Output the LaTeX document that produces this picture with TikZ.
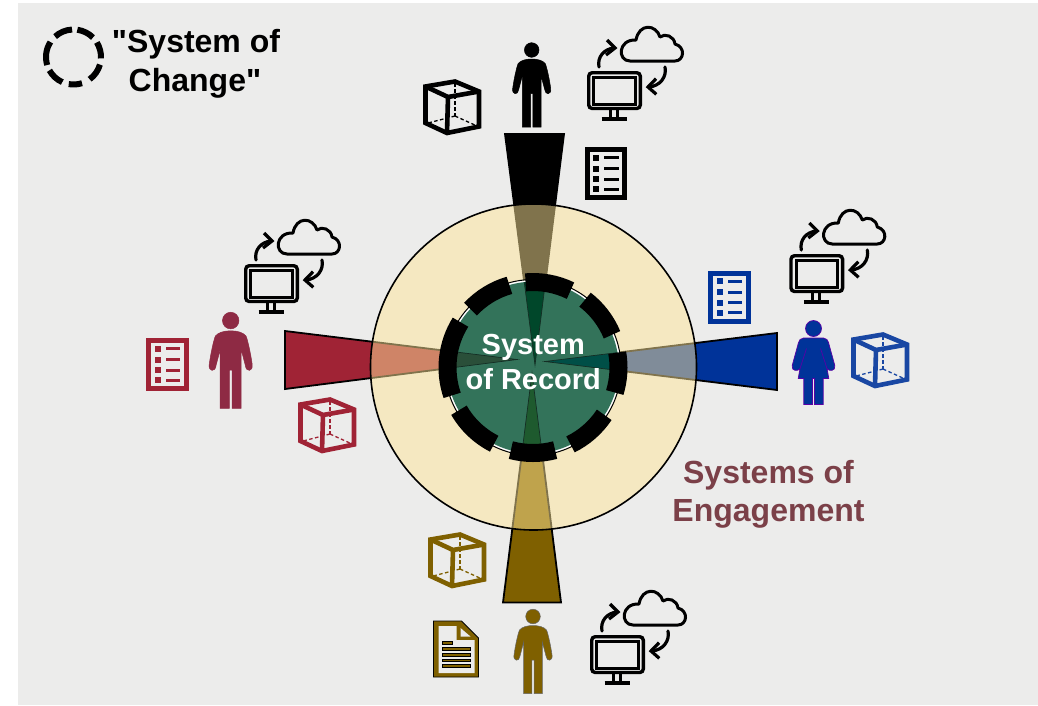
\documentclass[tikz,border=0pt]{standalone}
\usepackage{fontspec}
\newfontfamily\plainsans{Liberation Sans}
\definecolor{bgc}{HTML}{ECECEB}
\definecolor{cGold}{HTML}{7F6000}
\definecolor{cBlue}{HTML}{003399}
\definecolor{cRed}{HTML}{A02335}
\definecolor{cRedP}{HTML}{8E2A44}
\definecolor{cBeige}{HTML}{FFE699}
\definecolor{cGreen}{HTML}{33735A}
\definecolor{cTitle}{HTML}{7B4048}
\definecolor{wTop}{HTML}{00472A}
\definecolor{wRight}{HTML}{004F47}
\definecolor{wLeft}{HTML}{2A4F39}
\definecolor{wBottom}{HTML}{1E5A2E}
\tikzset{
  x=1pt,y=-1pt,
  ringdash/.style={line width=18pt,black},
  legdash/.style={line width=6pt,black},
  wedge/.style={line width=1.8pt,draw=black,line join=miter},
  inwedge/.style={line width=.7pt,draw=black!60!cGreen},
  bigtext/.style={font=\plainsans\bfseries\fontsize{32}{38}\selectfont,align=center,inner sep=0pt},
  sortext/.style={anchor=base,inner sep=0pt,text=white,font=\plainsans\bfseries\fontsize{29}{34}\selectfont},
  pics/cube/.style={code={
    \draw[#1,line width=4.6pt,line join=miter] (2.5,7.5)--(32,2.5)--(56,12.5)--(56,47.5)--(24,54)--(2.5,44)--cycle;
    \draw[#1,line width=4.6pt,line join=miter] (2.5,7.5)--(25,18)--(56,12.5);
    \draw[#1,line width=4.6pt] (25,18)--(24,54);
    \draw[#1,line width=2pt,dash pattern=on 3.5pt off 2.5pt] (32,4)--(32,37);
    \draw[#1,line width=1.3pt,dash pattern=on 3.5pt off 2.5pt] (32,37)--(5,44);
    \draw[#1,line width=1.3pt,dash pattern=on 3.5pt off 2.5pt] (32,37)--(54,47);
  }},
  pics/listicon/.style={code={
    \draw[#1,line width=5pt,fill=bgc,line join=miter] (2.5,2.5) rectangle (40,50.5);
    \foreach \yy in {7.5,18.5,29,39}{
      \fill[#1] (8.7,\yy) rectangle ++(6,6);
      \fill[#1] (19.7,\yy+1.5) rectangle ++(14.5,3);
    }
  }},
  pics/docicon/.style={code={
    \draw[black,fill=#1,line width=.8pt,line join=miter] (0,0)--(28,0)--(45,17)--(45,56)--(0,56)--cycle;
    \fill[bgc] (5,5)--(23,5)--(23,19)--(41,19)--(41,52)--(5,52)--cycle;
    \fill[bgc] (27,7)--(37,15.5)--(27,15.5)--cycle;
    \foreach \yy in {26.5,32.5,38,43.5}{
      \draw[black,fill=#1,line width=.4pt] (9,\yy) rectangle (37,\yy+2.6);
    }
    \draw[black,fill=#1,line width=.4pt] (9,20.5) rectangle (19,23.1);
  }},
  pics/man/.style 2 args={code={
    \fill[#1,draw=#2,line width=.5pt] (0,7.5) circle[radius=7.3];
    \fill[#1,draw=#2,line width=.5pt]
      (0,16.5) .. controls (6,16.5) and (11,18) .. (13.5,21)
      .. controls (15,24) and (18,38) .. (19,46)
      .. controls (20,52.5) and (13.5,53) .. (13,47)
      -- (9.3,33) -- (9.3,84.5) -- (1.2,84.5) -- (1.2,51) -- (-1.2,51) -- (-1.2,84.5) -- (-9.3,84.5) -- (-9.3,33) -- (-13,47)
      .. controls (-13.5,53) and (-20,52.5) .. (-19,46)
      .. controls (-18,38) and (-15,24) .. (-13.5,21)
      .. controls (-11,18) and (-6,16.5) .. (0,16.5) -- cycle;
  }},
  pics/woman/.style 2 args={code={
    \fill[#1,draw=#2,line width=.7pt] (0,8) circle[radius=8];
    \fill[#1,draw=#2,line width=.7pt]
      (0,17.5) -- (10,17.5) .. controls (13,17.5) and (14.5,20) .. (15,22)
      -- (21.3,45) .. controls (22.5,51) and (15,51) .. (13.5,48)
      -- (15.3,58) -- (9.7,58) -- (9.7,84) -- (1,84) -- (1,58) -- (-1,58) -- (-1,84) -- (-9.7,84) -- (-9.7,58) -- (-15.3,58)
      -- (-13.5,48) .. controls (-15,51) and (-22.5,51) .. (-21.3,45)
      -- (-15,22) .. controls (-14.5,20) and (-13,17.5) .. (-10,17.5) -- cycle;
    \draw[#2,line width=.7pt] (7,28) -- (13.5,48) (-7,28) -- (-13.5,48);
  }},
  pics/syncicon/.style={code={
    \draw[black,line width=3.4pt,rounded corners=3.5pt] (1.7,1.7) rectangle (53.3,37.5);
    \draw[black,line width=3pt] (6.8,6.8) rectangle (48.2,33);
    \draw[black,line width=2.8pt] (23.5,39) -- (23.5,47) (30.5,39) -- (30.5,47);
    \draw[black,line width=3.4pt] (14.5,48) -- (40,48);
    \draw[black,line width=3pt,line cap=round,line join=round]
      (43,-10) -- (88,-10) .. controls (97,-10) and (99,-24) .. (88,-27)
      .. controls (87,-35) and (78,-38) .. (73,-34)
      .. controls (69,-47) and (52,-48) .. (49,-31)
      .. controls (31,-32) and (30,-10) .. (43,-10) -- cycle;
    \draw[black,line width=3.2pt,line cap=round] (12,-4) .. controls (10,-14) and (17,-22) .. (27,-23);
    \draw[black,line width=3.2pt,line join=miter] (20,-31) -- (28,-23) -- (19,-16);
    \draw[black,line width=3.2pt,line cap=round] (78,-4) .. controls (80,6) and (73,15) .. (62,16);
    \draw[black,line width=3.2pt,line join=miter] (69,7.7) -- (61,16) -- (69.3,23.3);
  }},
}
\begin{document}
\begin{tikzpicture}
\useasboundingbox (0,0) rectangle (1038,705);
\fill[bgc] (18,3) rectangle (1038,705);

% wedge corner coordinates
\coordinate (c) at (533,367.5);
\coordinate (tT) at (535,365);   \coordinate (tA) at (505,134);  \coordinate (tB) at (564,134);
\coordinate (rT) at (545,361.5); \coordinate (rA) at (777,333);  \coordinate (rB) at (777,390);
\coordinate (lT) at (517,359.5); \coordinate (lA) at (285,331);  \coordinate (lB) at (285,389);
\coordinate (bT) at (532,373);   \coordinate (bA) at (503,602.5);\coordinate (bB) at (561,602.5);

\draw[wedge,fill=black] (tA)--(tB)--(tT)--cycle;
\draw[wedge,fill=cBlue] (rA)--(rB)--(rT)--cycle;
\draw[wedge,fill=cRed]  (lA)--(lB)--(lT)--cycle;
\draw[wedge,fill=cGold] (bA)--(bB)--(bT)--cycle;

% outer disc
\fill[cBeige,fill opacity=.5] (533.5,367) circle[radius=163];
\draw[black,line width=1.6pt] (533.5,367) circle[radius=163];

% inner disc
\fill[white] (c) circle[radius=87.5];
\draw[black,line width=1pt] (c) circle[radius=88];
\fill[cGreen] (c) circle[radius=85.8];
\begin{scope}
  \clip (c) circle[radius=85.8];
  \draw[inwedge,fill=wTop] (tA)--(tB)--(tT)--cycle;
  \draw[inwedge,fill=wRight] (rA)--(rB)--(rT)--cycle;
  \draw[inwedge,fill=wLeft] (lA)--(lB)--(lT)--cycle;
  \draw[inwedge,fill=wBottom] (bA)--(bB)--(bT)--cycle;
\end{scope}

% dashed ring of the System of Change
\draw[ringdash] (c) ++(95:85.5pt) arc[start angle=95,end angle=64,radius=85.5pt];
\draw[ringdash] (c) ++(52.5:85.5pt) arc[start angle=52.5,end angle=22.5,radius=85.5pt];
\draw[ringdash] (c) ++(10:85.5pt) arc[start angle=10,end angle=-17,radius=85.5pt];
\draw[ringdash] (c) ++(-33.6:85.5pt) arc[start angle=-33.6,end angle=-64,radius=85.5pt];
\draw[ringdash] (c) ++(-75:85.5pt) arc[start angle=-75,end angle=-105,radius=85.5pt];
\draw[ringdash] (c) ++(-117:85.5pt) arc[start angle=-117,end angle=-150,radius=85.5pt];
\draw[ringdash] (c) ++(-161:85.5pt) arc[start angle=-161,end angle=-212,radius=85.5pt];
\draw[ringdash] (c) ++(137:85.5pt) arc[start angle=137,end angle=106,radius=85.5pt];

\node[sortext] (sor1) at (533.3,354.5) {System};
\node[sortext] (sor2) at (533.3,389.5) {of Record};

% legend
\coordinate (lg) at (73.5,57);
\draw[legdash] (lg) ++(132:27.5pt) arc[start angle=132,end angle=93,radius=27.5pt];
\draw[legdash] (lg) ++(82:27.5pt) arc[start angle=82,end angle=45,radius=27.5pt];
\draw[legdash] (lg) ++(32:27.5pt) arc[start angle=32,end angle=-3,radius=27.5pt];
\draw[legdash] (lg) ++(-16:27.5pt) arc[start angle=-16,end angle=-54,radius=27.5pt];
\draw[legdash] (lg) ++(-72:27.5pt) arc[start angle=-72,end angle=-100,radius=27.5pt];
\draw[legdash] (lg) ++(-114:27.5pt) arc[start angle=-114,end angle=-151,radius=27.5pt];
\draw[legdash] (lg) ++(-163:27.5pt) arc[start angle=-163,end angle=-213,radius=27.5pt];
\node[anchor=base,bigtext] (leg1) at (196,52) {"System of};
\node[anchor=base,bigtext] (leg2) at (195,91) {Change"};

\node[anchor=base,bigtext,text=cTitle] (soe1) at (768.5,483) {Systems of};
\node[anchor=base,bigtext,text=cTitle] (soe2) at (768.5,521) {Engagement};

% top group
\pic (topman) at (531.7,42.5) {man={black}{black}};
\pic (topcube) at (423,79) {cube=black};
\pic (toplist) at (584.5,147) {listicon=black};
\pic (topsync) at (587,71) {syncicon};
% right group
\pic (rwoman) at (813.5,320.5) {woman={cBlue}{violet!70!blue}};
\pic (rcube) at (851,332) {cube={cBlue!90!white}};
\pic (rlist) at (708,270.7) {listicon=cBlue};
\pic (rsync) at (789.3,254) {syncicon};
% left group
\pic[xscale=1.13,yscale=1.14] (lman) at (230.7,312) {man={cRedP}{cRedP}};
\pic (lcube) at (298,397) {cube=cRed};
\pic (llist) at (146,338) {listicon=cRed};
\pic (lsync) at (244,264) {syncicon};
% bottom group
\pic (bman) at (533,609) {man={cGold}{black!60}};
\pic (bcube) at (428,532) {cube=cGold};
\pic (bdoc) at (433.5,621) {docicon=cGold};
\pic (bsync) at (590,635) {syncicon};
\end{tikzpicture}
\end{document}
